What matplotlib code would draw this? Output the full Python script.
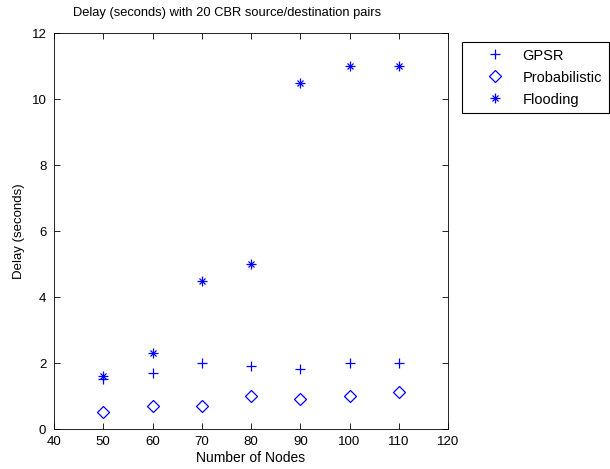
import matplotlib
matplotlib.use("Agg")
import matplotlib.pyplot as plt
from matplotlib.lines import Line2D

plt.rcParams['font.family'] = ['Liberation Sans', 'DejaVu Sans']

nodes = [50, 60, 70, 80, 90, 100, 110]
gpsr = [1.52, 1.71, 2.0, 1.92, 1.82, 2.0, 2.0]
probabilistic = [0.52, 0.70, 0.70, 1.01, 0.92, 1.01, 1.12]
flooding = [1.6, 2.31, 4.5, 5.0, 10.5, 11.0, 11.0]

xticks = [40, 50, 60, 70, 80, 90, 100, 110, 120]
yticks = [0, 2, 4, 6, 8, 10, 12]

blue = '#0000ff'
fig = plt.figure(figsize=(6.10, 4.69), dpi=100)
ax = fig.add_axes([54/610, 1-429/469, (448-54)/610, (429-33)/469])

plus_kw = dict(linestyle='none', marker='+', color=blue, markersize=6.5, markeredgewidth=0.9)
dia_kw = dict(linestyle='none', marker='D', markerfacecolor='none', markeredgecolor=blue,
              markersize=6, markeredgewidth=0.9)
fp_kw = dict(linestyle='none', marker='+', color=blue, markersize=7, markeredgewidth=0.9)
fx_kw = dict(linestyle='none', marker='x', color=blue, markersize=4.5, markeredgewidth=0.9)

ax.plot(nodes, gpsr, **plus_kw)
ax.plot(nodes, probabilistic, **dia_kw)
ax.plot(nodes, flooding, **fp_kw)
ax.plot(nodes, flooding, **fx_kw)

ax.set_xlim(40, 120)
ax.set_ylim(0, 12)
ax.set_xticks(xticks)
ax.set_yticks(yticks)
ax.tick_params(direction='in', top=True, right=True, labelsize=9.5, length=4, width=0.6)
ax.tick_params(axis='x', pad=5)
ax.tick_params(axis='y', pad=5.5)
for s in ax.spines.values():
    s.set_linewidth(0.6)
ax.set_xlabel('Number of Nodes', fontsize=10, labelpad=2.5)
ax.set_ylabel('Delay (seconds)', fontsize=9.5, labelpad=5)
ax.set_title('Delay (seconds) with 20 CBR source/destination pairs', fontsize=9.3,
             pad=12, x=(227-54)/394)

h1 = Line2D([], [], **plus_kw)
h2 = Line2D([], [], **dia_kw)
h3a = Line2D([], [], **fp_kw)
h3b = Line2D([], [], **fx_kw)
leg = fig.legend([h1, h2, (h3a, h3b)], ['GPSR', 'Probabilistic', 'Flooding'],
                 loc='upper left', bbox_to_anchor=(462/610, 1-42/469), fontsize=10.5,
                 fancybox=False, edgecolor='black', framealpha=1, borderpad=0.45,
                 borderaxespad=0, handlelength=3.6, labelspacing=0.55, handletextpad=0.1)
leg.get_frame().set_linewidth(0.8)

fig.savefig('out.png', dpi=100)
